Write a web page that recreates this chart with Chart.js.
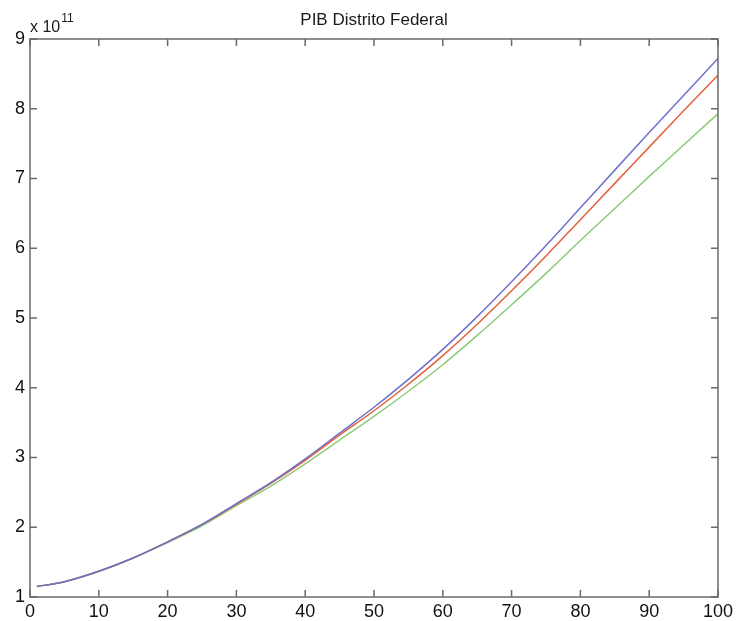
<!DOCTYPE html>
<html>
<head>
<meta charset="utf-8">
<script src="https://cdn.jsdelivr.net/npm/chart.js@4"></script>
<style>
  html, body { margin: 0; padding: 0; background: #fff; }
  #wrap { width: 737px; height: 621px; }
</style>
</head>
<body>
<div id="wrap"><canvas id="pibChart" width="737" height="621"></canvas></div>
<script>
// years (x) and PIB values in units of 1e11
const years = [1, 5, 10, 15, 20, 25, 30, 35, 40, 45, 50, 55, 60, 65, 70, 75, 80, 85, 90, 95, 100];
const pibBlue  = [1.15, 1.22, 1.37, 1.56, 1.79, 2.04, 2.34, 2.64, 2.98, 3.35, 3.72, 4.12, 4.55, 5.02, 5.52, 6.04, 6.58, 7.12, 7.66, 8.19, 8.72];
const pibRed   = [1.15, 1.22, 1.37, 1.56, 1.79, 2.04, 2.33, 2.63, 2.96, 3.32, 3.67, 4.05, 4.46, 4.91, 5.39, 5.89, 6.41, 6.93, 7.45, 7.97, 8.48];
const pibGreen = [1.15, 1.22, 1.37, 1.56, 1.78, 2.02, 2.31, 2.59, 2.91, 3.25, 3.59, 3.95, 4.33, 4.75, 5.19, 5.64, 6.11, 6.57, 7.03, 7.48, 7.93];
const xTicks = [0, 10, 20, 30, 40, 50, 60, 70, 80, 90, 100];
const yTicks = [1, 2, 3, 4, 5, 6, 7, 8, 9];
const chartTitle = 'PIB Distrito Federal';

const toPoints = (vals) => years.map((x, i) => ({x: x, y: vals[i]}));

const frameColor = '#6a6a6a';
const fontFam = '"Liberation Sans", Arial, Helvetica, sans-serif';

// matlab style box, inner ticks, title and exponent
const matlabFrame = {
    id: 'matlabFrame',
    afterDatasetsDraw(chart) {
        const ctx = chart.ctx, a = chart.chartArea;
        const xs = chart.scales.x, ys = chart.scales.y;
        const tl = 7;
        ctx.save();
        ctx.strokeStyle = frameColor;
        ctx.lineWidth = 1.5;
        ctx.strokeRect(a.left, a.top, a.right - a.left, a.bottom - a.top);
        ctx.beginPath();
        xTicks.forEach(v => {
            const px = xs.getPixelForValue(v);
            ctx.moveTo(px, a.bottom); ctx.lineTo(px, a.bottom - tl);
            ctx.moveTo(px, a.top); ctx.lineTo(px, a.top + tl);
        });
        yTicks.forEach(v => {
            const py = ys.getPixelForValue(v);
            ctx.moveTo(a.left, py); ctx.lineTo(a.left + tl, py);
            ctx.moveTo(a.right, py); ctx.lineTo(a.right - tl, py);
        });
        ctx.stroke();

        ctx.fillStyle = '#1a1a1a';
        ctx.textBaseline = 'alphabetic';
        ctx.textAlign = 'center';
        ctx.font = '17px ' + fontFam;
        ctx.fillText(chartTitle, (a.left + a.right) / 2, 25);

        ctx.textAlign = 'left';
        ctx.font = '16px ' + fontFam;
        ctx.fillText('x 10', a.left, 32);
        const w = ctx.measureText('x 10').width;
        ctx.font = '12px ' + fontFam;
        ctx.fillText('11', a.left + w + 1, 22);
        ctx.restore();
    }
};

const mkSet = (vals, color) => ({
    data: toPoints(vals),
    borderColor: color,
    backgroundColor: color,
    borderWidth: 1.5,
    pointRadius: 0,
    tension: 0.3,
    fill: false
});

new Chart('pibChart', {
    type: 'line',
    data: {
        datasets: [
            mkSet(pibBlue, '#6d70cc'),
            mkSet(pibRed, '#e2603a'),
            mkSet(pibGreen, '#8ccb78')
        ]
    },
    options: {
        responsive: false,
        animation: false,
        layout: { padding: { top: 39, right: 19, left: 0, bottom: 0 } },
        plugins: { legend: { display: false }, title: { display: false }, tooltip: { enabled: false } },
        scales: {
            x: {
                type: 'linear', min: 0, max: 100,
                afterBuildTicks: (s) => { s.ticks = xTicks.map(v => ({value: v})); },
                afterFit: (s) => { s.height = 24; },
                grid: { display: false, drawTicks: false },
                border: { display: false },
                ticks: { color: '#111', padding: 4, maxRotation: 0, autoSkip: false, font: { family: fontFam, size: 18 } }
            },
            y: {
                type: 'linear', min: 1, max: 9,
                afterBuildTicks: (s) => { s.ticks = yTicks.map(v => ({value: v})); },
                afterFit: (s) => { s.width = 30; },
                grid: { display: false, drawTicks: false },
                border: { display: false },
                ticks: { color: '#111', padding: 5, autoSkip: false, font: { family: fontFam, size: 18 } }
            }
        }
    },
    plugins: [matlabFrame]
});
</script>
</body>
</html>
